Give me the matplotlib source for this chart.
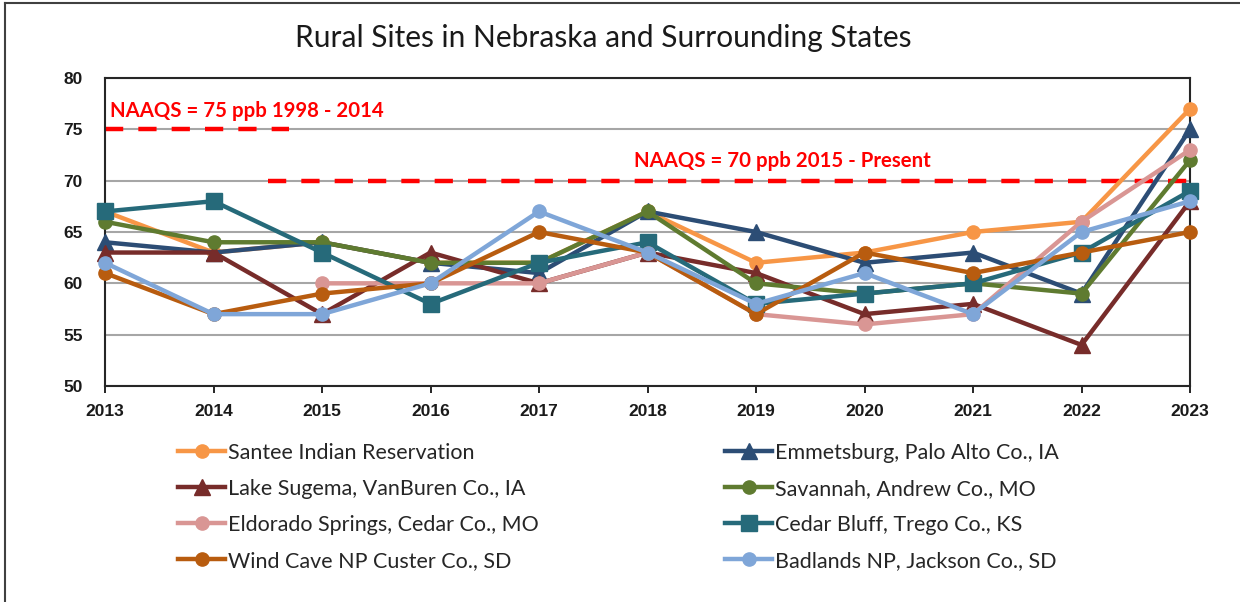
import numpy as np
import matplotlib
matplotlib.use("Agg")
import matplotlib.pyplot as plt
from matplotlib.lines import Line2D

years = [2013, 2014, 2015, 2016, 2017, 2018, 2019, 2020, 2021, 2022, 2023]

santee     = [67, 63, 64, 62, 62, 67, 62, 63, 65, 66, 77]
emmetsburg = [64, 63, 64, 62, 61, 67, 65, 62, 63, 59, 75]
lake_sug   = [63, 63, 57, 63, 60, 63, 61, 57, 58, 54, 68]
savannah   = [66, 64, 64, 62, 62, 67, 60, 59, 60, 59, 72]
eldorado   = [np.nan, np.nan, 60, 60, 60, 63, 57, 56, 57, 66, 73]
cedar      = [67, 68, 63, 58, 62, 64, 58, 59, 60, 63, 69]
windcave   = [61, 57, 59, 60, 65, 63, 57, 63, 61, 63, 65]
badlands   = [62, 57, 57, 60, 67, 63, 58, 61, 57, 65, 68]

labels = ["Santee Indian Reservation", "Emmetsburg, Palo Alto Co., IA",
          "Lake Sugema, VanBuren Co., IA", "Savannah, Andrew Co., MO",
          "Eldorado Springs, Cedar Co., MO", "Cedar Bluff, Trego Co., KS",
          "Wind Cave NP Custer Co., SD", "Badlands NP, Jackson Co., SD"]
series = [santee, emmetsburg, lake_sug, savannah, eldorado, cedar, windcave, badlands]
colors = ["#F79646", "#2C4D75", "#772C2A", "#5F7B30", "#D99694", "#266A7A", "#B85C0F", "#7FA6D8"]
markers = ["o", "^", "^", "o", "o", "s", "o", "o"]
msizes = [9.5, 12, 12, 9.5, 9.5, 11, 9.5, 9.5]

old_std, new_std = 75, 70
old_label = "NAAQS = 75 ppb 1998 - 2014"
new_label = "NAAQS = 70 ppb 2015 - Present"

plt.rcParams['font.family'] = ['Lato', 'DejaVu Sans']

fig = plt.figure(figsize=(12.4, 6.02), dpi=100)
ax = fig.add_axes([105/1240, 1-386/602, (1190-105)/1240, (386-78)/602])

ax.set_xlim(2013, 2023)
ax.set_ylim(50, 80)
ax.set_yticks([50, 55, 60, 65, 70, 75, 80])
ax.set_xticks(years)
ax.grid(axis='y', color='#A6A6A6', linewidth=1.5, zorder=0)
ax.set_axisbelow(True)

for s in ax.spines.values():
    s.set_linewidth(1.5)
    s.set_color('#262626')

ax.tick_params(axis='y', length=0, pad=16)
ax.tick_params(axis='x', length=5, width=1.2, direction='out', pad=8)
for lab in ax.get_xticklabels() + ax.get_yticklabels():
    lab.set_fontfamily('Liberation Sans')
    lab.set_fontweight('bold')
    lab.set_fontsize(12.5)
    lab.set_color('#1a1a1a')

# NAAQS lines
dash = (0, (4.1, 3.4))
ax.plot([2013, 2014.7], [old_std, old_std], color='#FF0000', lw=3.2,
        linestyle=dash, zorder=2, clip_on=False)
ax.plot([2014.5, 2023], [new_std, new_std], color='#FF0000', lw=3.2,
        linestyle=dash, zorder=2, clip_on=False)
ax.text(2013.05, 75.8, old_label, color='#FF0000', fontsize=14.7,
        fontweight='bold', ha='left', va='bottom', family=['Lato', 'DejaVu Sans'])
ax.text(2017.88, 70.9, new_label, color='#FF0000', fontsize=14.7,
        fontweight='bold', ha='left', va='bottom', family=['Lato', 'DejaVu Sans'])

handles = []
for i, (vals, lab, c, m, ms) in enumerate(zip(series, labels, colors, markers, msizes)):
    h, = ax.plot(years, vals, color=c, lw=3.2, marker=m, markersize=ms,
                 markeredgecolor=c, label=lab, zorder=3 + i, clip_on=False)
    handles.append(h)

fig.suptitle("Rural Sites in Nebraska and Surrounding States", x=603/1240, y=1-38/602,
             va='center', fontsize=21.5, color='#1a1a1a')

left_idx = [0, 2, 4, 6]
right_idx = [1, 3, 5, 7]
leg_kw = dict(frameon=False, fontsize=15.5, handlelength=2.2, handletextpad=0.12,
              labelspacing=0.74, borderpad=0, borderaxespad=0, loc='upper left',
              labelcolor='#262626')
leg1 = fig.legend([handles[i] for i in left_idx], [labels[i] for i in left_idx],
                  bbox_to_anchor=(178/1240, 1-443/602), **leg_kw)
leg2 = fig.legend([handles[i] for i in right_idx], [labels[i] for i in right_idx],
                  bbox_to_anchor=(725/1240, 1-443/602), **leg_kw)

# outer frame (left and top)
fig.add_artist(Line2D([5/1240, 5/1240], [0, 1-3/602], transform=fig.transFigure,
                      color='#404040', lw=1.5))
fig.add_artist(Line2D([5/1240, 1], [1-3/602, 1-3/602], transform=fig.transFigure,
                      color='#404040', lw=1.5))

fig.savefig("out.png", dpi=100)
